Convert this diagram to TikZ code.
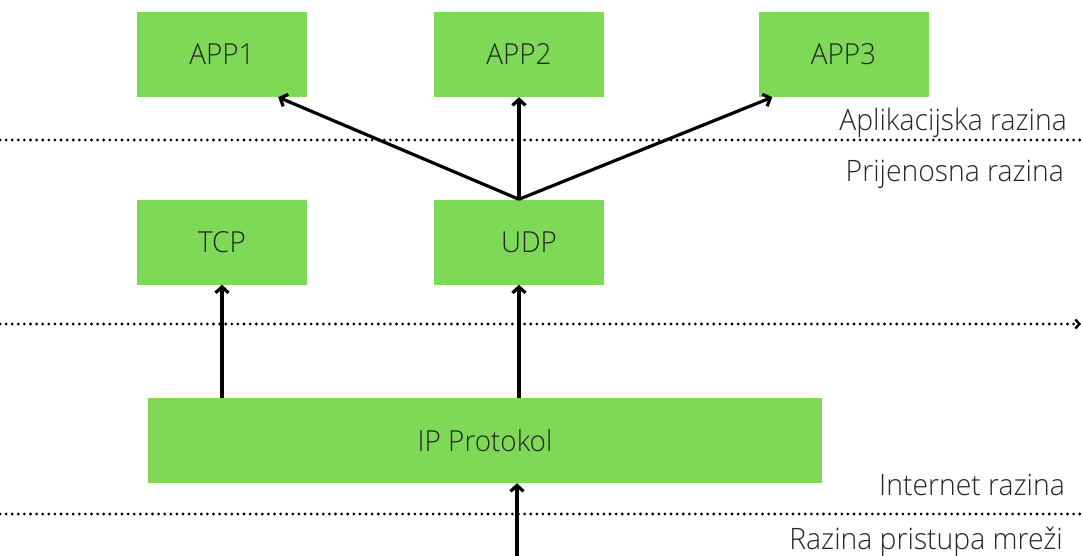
\documentclass[tikz,border=0pt]{standalone}
\usepackage{fontspec}
\setmainfont{Open Sans}[UprightFont=* Light, FakeStretch=0.96]
\usetikzlibrary{arrows.meta}
\definecolor{boxgreen}{HTML}{7ED957}
\tikzset{
  box/.style={fill=boxgreen, minimum width=170pt, minimum height=85pt, inner sep=0pt, font=\fontsize{29}{32}\selectfont, text=black!85},
  layer/.style={line width=3.1pt, dash pattern=on 0pt off 6.1pt, line cap=round},
  lvl/.style={anchor=base east, inner sep=0pt, font=\fontsize{29.5}{32}\selectfont, text=black!85},
  up/.style={line width=3.2pt, -{Straight Barb[length=6pt,width=13pt]}}
}
\begin{document}
\begin{tikzpicture}[x=1pt,y=-1pt]
            \useasboundingbox (0,0) rectangle (1083,556);
            \node[box] (app1) at (222,54.5) {APP1};
            \node[box] (app2) at (519,54.5) {APP2};
            \node[box] (app3) at (843.5,54.5) {APP3};
            \node[box] (tcp) at (222,242) {TCP};
            \node[box] (udp) at (519,242) {\hspace*{20pt}UDP};
            \node[box, minimum width=674pt] (ip) at (485,440.5) {IP Protokol};

            \node[lvl] (apl) at (1067,131) {Aplikacijska razina};
            \node[lvl] (prij) at (1064,182) {Prijenosna razina};
            \node[lvl] (inet) at (1065,495) {Internet razina};
            \node[lvl] (pris) at (1063,549) {Razina pristupa mreži};

            \coordinate (aw) at (0,140); \coordinate (ae) at (1083,140);
            \coordinate (tw) at (0,324); \coordinate (te) at (1081,324);
            \coordinate (iw) at (0,514); \coordinate (ie) at (1083,514);
            \coordinate (net) at (517,556);

            \draw[layer] (aw) to (ae); \draw[layer, -{Straight Barb[length=4pt,width=9pt,line width=2.4pt]}] (tw) to (te); \draw[layer] (iw) to (ie);
            \draw[up] (udp.north) to ([xshift=-29pt]app1.south east); \draw[up] (udp.north) to (app2.south); \draw[up] (udp.north) to ([xshift=14pt]app3.south west);
            \draw[up] (ip.north -| tcp.south) to (tcp.south); \draw[up] (ip.north -| udp.south) to (udp.south); \draw[up] (net) to (ip.south -| net);
        \end{tikzpicture}
\end{document}
